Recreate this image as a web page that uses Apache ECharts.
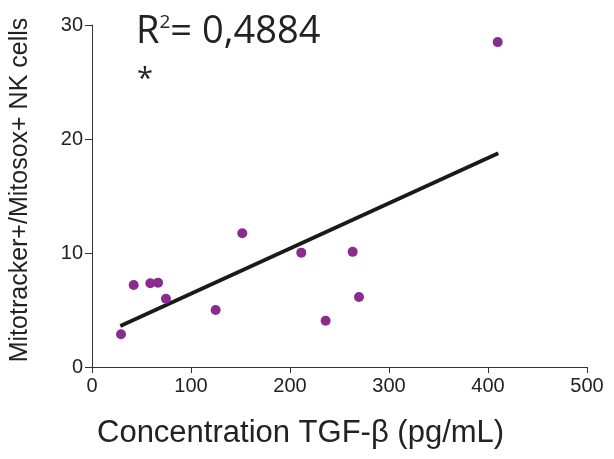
<!DOCTYPE html>
<html><head><meta charset="utf-8">
<script src="https://cdn.jsdelivr.net/npm/echarts@6/dist/echarts.min.js"></script>
<style>html,body{margin:0;padding:0;background:#fff}#c{width:614px;height:459px}</style>
</head><body><div id="c"></div>
<script>
// Data
const tgfBeta = [29.3, 42.1, 58.9, 66.7, 74.7, 124.9, 151.8, 211.4, 236, 263.3, 269.7, 409.8];
const mitoNK  = [2.87, 7.19, 7.34, 7.4, 5.99, 5.0, 11.73, 10.03, 4.06, 10.1, 6.14, 28.5];
const fitX = [28.6, 410.4];
const fitY = [3.6, 18.75];
const xTicks = [0, 100, 200, 300, 400, 500];
const yTicks = [0, 10, 20, 30];
const r2Text = '0,4884';
const xTitle = 'Concentration TGF-β (pg/mL)';
const yTitle = 'Mitotracker+/Mitosox+ NK cells';

const pts = tgfBeta.map((x, i) => [x, mitoNK[i]]);
const fit = fitX.map((x, i) => [x, fitY[i]]);

const chart = echarts.init(document.getElementById('c'), null, {renderer: 'canvas'});
const axisCol = '#333';
chart.setOption({
  animation: false,
  grid: {left: 91, right: 27, top: 25, bottom: 92},
  xAxis: {
    type: 'value', min: xTicks[0], max: xTicks[xTicks.length - 1], interval: 100,
    axisLine: {lineStyle: {color: axisCol, width: 1}},
    axisTick: {length: 6, lineStyle: {color: axisCol}},
    axisLabel: {fontFamily: 'Liberation Sans', fontSize: 20, color: '#222', margin: 9},
    splitLine: {show: false}
  },
  yAxis: {
    type: 'value', min: yTicks[0], max: yTicks[yTicks.length - 1], interval: 10,
    name: yTitle, nameLocation: 'middle', nameGap: 59,
    nameTextStyle: {fontFamily: 'Liberation Sans', fontSize: 25, color: '#222', padding: [0, 0, 0, 12]},
    axisLine: {show: true, lineStyle: {color: axisCol, width: 1}},
    axisTick: {show: true, length: 7, lineStyle: {color: axisCol}},
    axisLabel: {fontFamily: 'Liberation Sans', fontSize: 20, color: '#222', margin: 9},
    splitLine: {show: false}
  },
  series: [
    {type: 'line', data: fit, symbol: 'none', lineStyle: {color: '#1a1a1a', width: 3.8}, z: 2},
    {type: 'scatter', data: pts, symbol: 'circle', symbolSize: 10, itemStyle: {color: '#8b2a8f', opacity: 1}, z: 3}
  ],
  graphic: [
    {type: 'text', left: 97, top: 418, style: {text: xTitle, fontFamily: 'Liberation Sans', fontSize: 31, fill: '#222'}},
    {type: 'text', left: 136, top: 13, style: {
      text: '{a|R}{b|2}{a|= ' + r2Text + '}',
      rich: {
        a: {fontFamily: 'Open Sans', fontSize: 38, fill: '#222', verticalAlign: 'bottom'},
        b: {fontFamily: 'Open Sans', fontSize: 19, fill: '#222', verticalAlign: 'top', padding: [0, 0, 18, 0]}
      }}},
    {type: 'text', left: 137, top: 65, style: {text: '*', fontFamily: 'Open Sans', fontSize: 29, fill: '#222'}}
  ]
});
</script></body></html>
